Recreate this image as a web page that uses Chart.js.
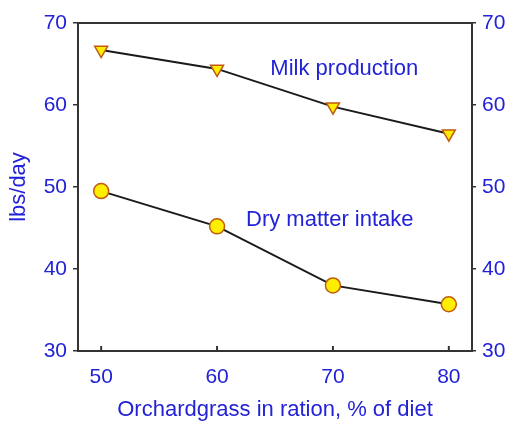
<!DOCTYPE html>
<html>
<head>
<meta charset="utf-8">
<script src="https://cdn.jsdelivr.net/npm/chart.js@4.4.1/dist/chart.umd.min.js"></script>
<style>
html,body{margin:0;padding:0;background:#fff;}
#wrap{width:511px;height:423px;}
</style>
</head>
<body>
<div id="wrap"><canvas id="c" width="511" height="423"></canvas></div>
<script>
// data
const orchardgrass = [50, 60, 70, 80];
const milkProduction = [66.7, 64.4, 59.8, 56.5];
const dryMatterIntake = [49.5, 45.2, 38.0, 35.7];
const xTicks = [50, 60, 70, 80];
const yTicks = [30, 40, 50, 60, 70];

const blue = "#2222d6";
const family = "Liberation Sans, Arial, sans-serif";
const tickFont = {family: family, size: 21};
const titleFont = {family: family, size: 22};

function pts(ys){ return orchardgrass.map((x,i)=>({x:x,y:ys[i]})); }

// frame, inward x ticks, series labels and y title
const extras = {
  id: "extras",
  afterDraw(chart){
    const ctx = chart.ctx, a = chart.chartArea;
    const xs = chart.scales.x, ys = chart.scales.y;
    ctx.save();
    ctx.strokeStyle = "#333";
    ctx.lineWidth = 2;
    ctx.strokeRect(a.left, a.top, a.right - a.left, a.bottom - a.top);
    ctx.beginPath();
    xTicks.forEach(v=>{
      const px = xs.getPixelForValue(v);
      ctx.moveTo(px, a.bottom);
      ctx.lineTo(px, a.bottom - 5);
    });
    ctx.stroke();
    ctx.fillStyle = blue;
    ctx.font = "22px " + family;
    ctx.textBaseline = "middle";
    ctx.textAlign = "left";
    ctx.fillText("Milk production", xs.getPixelForValue(64.6), ys.getPixelForValue(64.4));
    ctx.fillText("Dry matter intake", xs.getPixelForValue(62.5), ys.getPixelForValue(46.0));
    ctx.translate(19, (a.top + a.bottom) / 2);
    ctx.rotate(-Math.PI/2);
    ctx.textAlign = "center";
    ctx.fillText("lbs/day", 0, 0);
    ctx.restore();
  }
};

new Chart(document.getElementById("c"),{
  type:"scatter",
  data:{
    datasets:[{
      label:"Milk production",
      data:pts(milkProduction),
      showLine:true,
      borderColor:"#1a1a1a",
      borderWidth:2,
      pointStyle:"triangle",
      rotation:180,
      pointRadius:7.5,
      pointBackgroundColor:"#ffee00",
      pointBorderColor:"#c05a10",
      pointBorderWidth:1.5
    },{
      label:"Dry matter intake",
      data:pts(dryMatterIntake),
      showLine:true,
      borderColor:"#1a1a1a",
      borderWidth:2,
      pointStyle:"circle",
      pointRadius:7.5,
      pointBackgroundColor:"#ffee00",
      pointBorderColor:"#c05a10",
      pointBorderWidth:1.5
    }]
  },
  options:{
    responsive:false,
    animation:false,
    layout:{padding:{top:23,left:0,right:0,bottom:0}},
    plugins:{legend:{display:false},tooltip:{enabled:false}},
    scales:{
      x:{
        type:"linear",min:48,max:82,
        afterBuildTicks(s){ s.ticks = xTicks.map(v=>({value:v})); },
        afterFit(s){ s.height = 72; },
        grid:{display:false,drawTicks:false},
        border:{display:false},
        ticks:{color:blue,font:tickFont,padding:14},
        title:{display:true,text:"Orchardgrass in ration, % of diet",color:blue,font:titleFont,padding:{top:10,bottom:0}}
      },
      y:{
        type:"linear",position:"left",min:30,max:70,
        afterBuildTicks(s){ s.ticks = yTicks.map(v=>({value:v})); },
        afterFit(s){ s.width = 78; },
        grid:{drawOnChartArea:false,tickLength:5,color:"#333",lineWidth:1.5},
        border:{display:false},
        ticks:{color:blue,font:tickFont,padding:6}
      },
      y2:{
        type:"linear",position:"right",min:30,max:70,
        afterBuildTicks(s){ s.ticks = yTicks.map(v=>({value:v})); },
        afterFit(s){ s.width = 39; },
        grid:{drawOnChartArea:false,tickLength:4,color:"#333",lineWidth:1.5},
        border:{display:false},
        ticks:{color:blue,font:tickFont,padding:6}
      }
    }
  },
  plugins:[extras]
});
</script>
</body>
</html>
